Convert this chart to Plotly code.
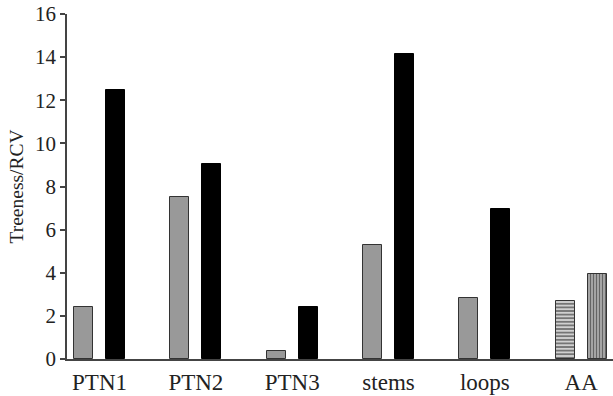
import plotly.graph_objects as go

categories = ["PTN1", "PTN2", "PTN3", "stems", "loops", "AA"]
treeness_grey = [2.43, 7.53, 0.37, 5.29, 2.84]
treeness_black = [12.46, 9.04, 2.43, 14.13, 6.97]
aa_horizontal = [2.70]
aa_vertical = [3.96]
y_ticks = [0, 2, 4, 6, 8, 10, 12, 14, 16]

xs = list(range(len(categories)))
W = 0.197
OFF_A = -0.265
OFF_B = 0.068

fig = go.Figure()
fig.add_bar(x=xs[:5], y=treeness_grey, width=W, offset=OFF_A,
            marker=dict(color="#999999", line=dict(color="#333333", width=1)),
            showlegend=False)
fig.add_bar(x=xs[:5], y=treeness_black, width=W, offset=OFF_B,
            marker=dict(color="#000000", line=dict(color="#000000", width=1)),
            showlegend=False)
fig.add_bar(x=[xs[5]], y=aa_horizontal, width=W, offset=OFF_A,
            marker=dict(color="#d0d0d0", line=dict(color="#333333", width=1),
                        pattern=dict(shape="-", size=3.6, solidity=0.5,
                                     fgcolor="#1a1a1a", bgcolor="#d0d0d0")),
            showlegend=False)
fig.add_bar(x=[xs[5]], y=aa_vertical, width=W, offset=OFF_B,
            marker=dict(color="#b0b0b0", line=dict(color="#333333", width=1),
                        pattern=dict(shape="|", size=3, solidity=0.45,
                                     fgcolor="#1a1a1a", bgcolor="#b0b0b0")),
            showlegend=False)

font_family = "Liberation Serif, Times New Roman, serif"
fig.update_layout(
    width=613, height=396,
    margin=dict(l=67, r=0, t=14, b=37),
    plot_bgcolor="white", paper_bgcolor="white",
    font=dict(family=font_family, color="#222222"),
    barmode="overlay",
    bargap=0,
)
fig.update_xaxes(
    range=[-0.3375, 5.33],
    tickvals=xs, ticktext=categories,
    tickfont=dict(size=23, family=font_family, color="#222222"),
    showline=True, linecolor="#444444", linewidth=1.5,
    ticks="outside", ticklen=2, tickcolor="rgba(0,0,0,0)",
    showgrid=False, zeroline=False,
)
fig.update_yaxes(
    range=[0, 16],
    tickvals=y_ticks,
    tickfont=dict(size=21, family=font_family, color="#222222"),
    showline=True, linecolor="#444444", linewidth=1.5,
    ticks="outside", ticklen=5, tickcolor="#444444", tickwidth=1.5,
    showgrid=False, zeroline=False,
    title=dict(text="Treeness/RCV", font=dict(size=19.5, family=font_family, color="#222222"), standoff=6),
)
fig.write_html("out.html")
